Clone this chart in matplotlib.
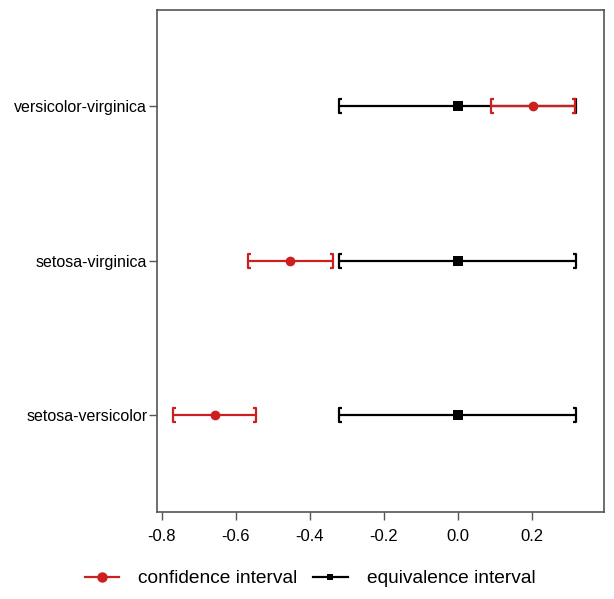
import numpy as np
import matplotlib
matplotlib.use("Agg")
import matplotlib.pyplot as plt
from matplotlib.path import Path
from matplotlib.lines import Line2D

plt.rcParams['font.family'] = ['Liberation Sans', 'DejaVu Sans']

comparisons = ["setosa-versicolor", "setosa-virginica", "versicolor-virginica"]
ci_est = [-0.657, -0.454, 0.203]
ci_low = [-0.770, -0.568, 0.089]
ci_high = [-0.546, -0.338, 0.317]
eq_center = [0.0, 0.0, 0.0]
eq_low = [-0.322, -0.322, -0.322]
eq_high = [0.320, 0.320, 0.320]

red = "#cc1f1f"
axcol = "#555555"

# bracket shaped end caps
left_cap = Path([(0.45, -1), (0, -1), (0, 1), (0.45, 1)],
                [Path.MOVETO, Path.LINETO, Path.LINETO, Path.LINETO])
right_cap = Path([(-0.45, -1), (0, -1), (0, 1), (-0.45, 1)],
                 [Path.MOVETO, Path.LINETO, Path.LINETO, Path.LINETO])

fig = plt.figure(figsize=(6.14, 5.99), dpi=100)
ax = fig.add_axes([157/614, 87/599, 447/614, 502/599])

ypos = np.arange(1, len(comparisons) + 1)

def draw_interval(lo, hi, mid, y, color, marker, ms):
    ax.plot([lo, hi], [y, y], color=color, lw=1.6, solid_capstyle='butt', zorder=2)
    ax.plot([lo], [y], marker=left_cap, ms=9.5, mew=1.6, color=color, fillstyle='none', zorder=3)
    ax.plot([hi], [y], marker=right_cap, ms=9.5, mew=1.6, color=color, fillstyle='none', zorder=3)
    ax.plot([mid], [y], marker=marker, ms=ms, color=color, mew=0, zorder=4)

for i, y in enumerate(ypos):
    draw_interval(eq_low[i], eq_high[i], eq_center[i], y, "black", "s", 6.5)
    draw_interval(ci_low[i], ci_high[i], ci_est[i], y, red, "o", 7)

ax.set_xlim(-0.8135, 0.395)
ax.set_ylim(0.375, 3.62)
ax.set_yticks(ypos)
ax.set_yticklabels(comparisons)
ax.set_xticks([-0.8, -0.6, -0.4, -0.2, 0.0, 0.2])
ax.set_xticklabels(["-0.8", "-0.6", "-0.4", "-0.2", "0.0", "0.2"])
ax.tick_params(axis='y', labelsize=11.5, length=6, width=1, color=axcol, pad=1)
ax.tick_params(axis='x', labelsize=12, length=6, width=1, color=axcol, pad=6)
for s in ax.spines.values():
    s.set_color(axcol)
    s.set_linewidth(1.2)

handles = [
    Line2D([0], [0], color=red, lw=1.6, marker='o', ms=7.5, mew=0),
    Line2D([0], [0], color="black", lw=1.6, marker='s', ms=5, mew=0),
]
fig.legend(handles, ["confidence interval", "equivalence interval"],
           loc='center', bbox_to_anchor=(0.505, 0.034), ncol=2, frameon=False,
           fontsize=13.8, handlelength=1.8, columnspacing=0.8, handletextpad=1.0)

fig.savefig("out.png", dpi=100)
